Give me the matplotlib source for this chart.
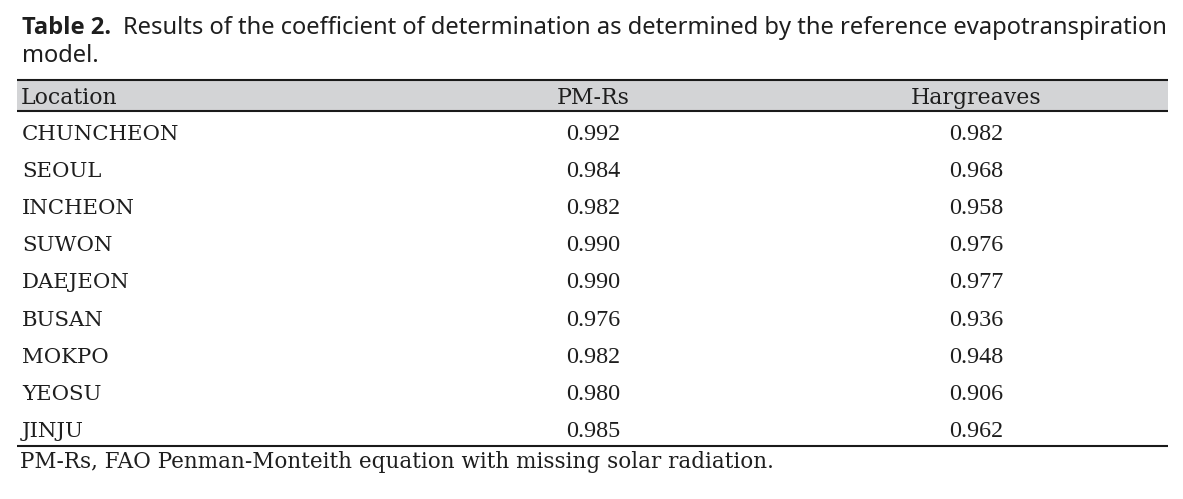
import matplotlib
matplotlib.use("Agg")
import matplotlib.pyplot as plt
from matplotlib.patches import Rectangle
from matplotlib import font_manager as fm

title_bold = "Table 2."
title_rest = "Results of the coefficient of determination as determined by the reference evapotranspiration"
title_line2 = "model."
headers = ["Location", "PM-Rs", "Hargreaves"]
locations = ["CHUNCHEON", "SEOUL", "INCHEON", "SUWON", "DAEJEON", "BUSAN", "MOKPO", "YEOSU", "JINJU"]
pm_rs = ["0.992", "0.984", "0.982", "0.990", "0.990", "0.976", "0.982", "0.980", "0.985"]
hargreaves = ["0.982", "0.968", "0.958", "0.976", "0.977", "0.936", "0.948", "0.906", "0.962"]
footnote = "PM-Rs, FAO Penman-Monteith equation with missing solar radiation."

W, H = 1183, 499
fig = plt.figure(figsize=(W / 100, H / 100), dpi=100)
ax = fig.add_axes([0, 0, 1, 1])
ax.set_xlim(0, W)
ax.set_ylim(H, 0)
ax.axis("off")


def pick_bold(cands):
    for c in cands:
        try:
            p = fm.findfont(fm.FontProperties(family=c, weight="bold"), fallback_to_default=False)
            if "bold" in p.lower() and c.replace(" ", "").lower() in p.replace(" ", "").replace("-", "").lower():
                return c
        except Exception:
            pass
    return "DejaVu Sans"


sans = "Noto Sans"
bold_sans = pick_bold(["Noto Sans", "Open Sans", "Lato", "Inter", "Roboto", "DejaVu Sans"])
txt_serif = "DejaVu Serif"
num_serif = "Liberation Serif"
tcolor = "#1e1e1e"
lcolor = "#1a1a1a"

fig.canvas.draw()
r = fig.canvas.get_renderer()


def width_px(t):
    bb = t.get_window_extent(r)
    return bb.x1 - bb.x0

# title (fit to reference width)
tfs = 17.4
t2 = ax.text(123, 34.3, title_rest, fontsize=tfs, family=sans, va="baseline", ha="left", color=tcolor)
w2 = width_px(t2)
tfs = tfs * (1167 - 123) / w2
t2.set_fontsize(tfs)
ax.text(22, 34.3, title_bold, fontsize=tfs, fontweight="bold", family=bold_sans,
        va="baseline", ha="left", color=tcolor)
ax.text(22, 61.7, title_line2, fontsize=tfs, family=sans,
        va="baseline", ha="left", color=tcolor)

x0, x1 = 17, 1168
# header band
ax.add_patch(Rectangle((x0, 80), x1 - x0, 31, facecolor="#d3d4d6", edgecolor="none"))
ax.plot([x0, x1], [80, 80], color=lcolor, lw=1.5, solid_capstyle="butt")
ax.plot([x0, x1], [111, 111], color=lcolor, lw=1.5, solid_capstyle="butt")

col_x = [21, 593, 976]
hfs = 15.8
rfs = 15.35
ffs = 15.5
nfs = 17.4
ax.text(col_x[0], 104, headers[0], fontsize=hfs, family=txt_serif, va="baseline", ha="left", color=tcolor)
ax.text(col_x[1], 104, headers[1], fontsize=hfs, family=txt_serif, va="baseline", ha="center", color=tcolor)
ax.text(col_x[2], 104, headers[2], fontsize=hfs, family=txt_serif, va="baseline", ha="center", color=tcolor)

row0, dy = 140, 37.1
for i, (loc, p, hg) in enumerate(zip(locations, pm_rs, hargreaves)):
    y = row0 + i * dy
    ax.text(22, y, loc, fontsize=rfs, family=txt_serif, va="baseline", ha="left", color=tcolor)
    ax.text(col_x[1], y, p, fontsize=nfs, family=num_serif, va="baseline", ha="center", color=tcolor)
    ax.text(col_x[2], y, hg, fontsize=nfs, family=num_serif, va="baseline", ha="center", color=tcolor)

ax.plot([x0, x1], [446, 446], color=lcolor, lw=1.5, solid_capstyle="butt")
ax.text(20, 468, footnote, fontsize=ffs, family=txt_serif, va="baseline", ha="left", color=tcolor)

fig.savefig("out.png", dpi=100)
